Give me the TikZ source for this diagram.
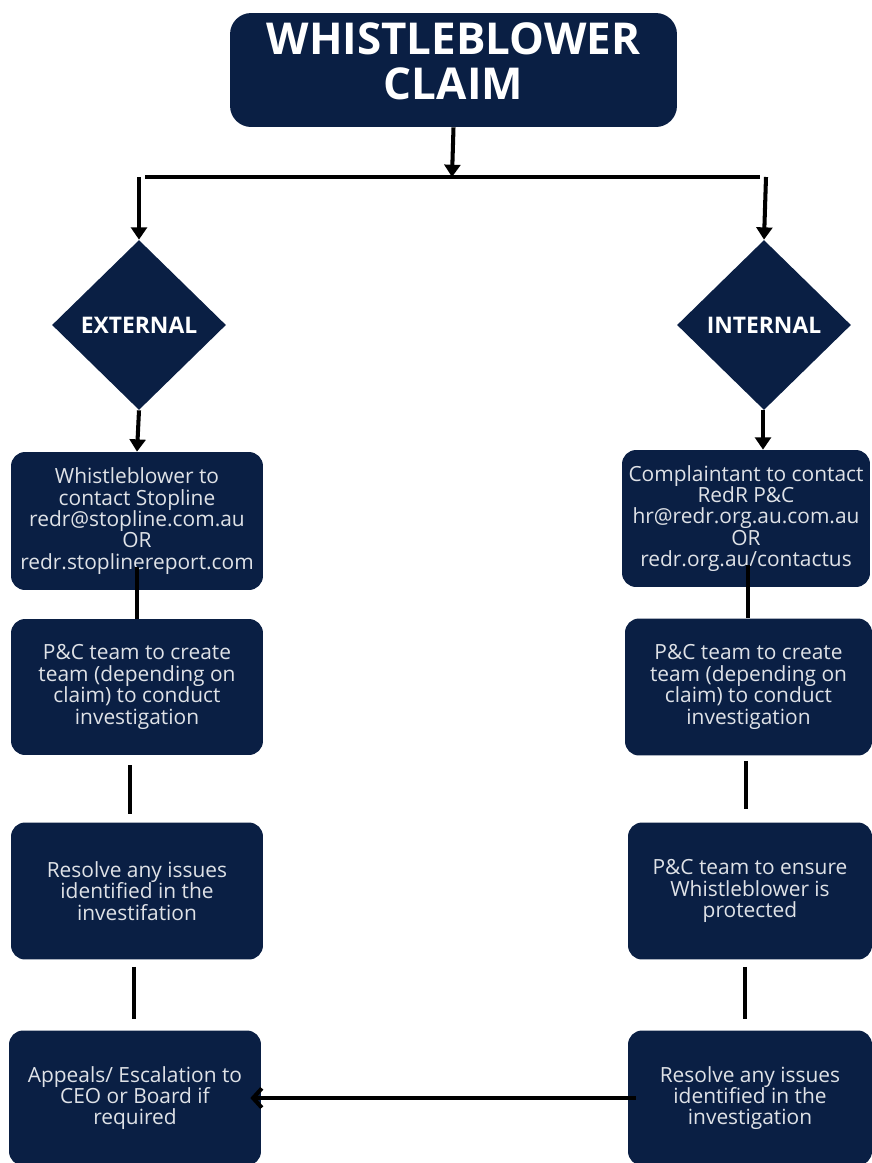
\documentclass[tikz,border=0pt]{standalone}
\usepackage{fontspec}
\setmainfont{Open Sans}
\usepackage{xcolor}
\usepackage{tikz}
\usetikzlibrary{positioning,arrows.meta,shapes.geometric,calc}

\definecolor{navy}{HTML}{0A1F44}
\definecolor{paletxt}{HTML}{DFE2E7}

\begin{document}
\begin{tikzpicture}[
  x=0.02cm, y=-0.02cm,
  titlebox/.style={fill=navy, rounded corners=12pt, minimum width=8.94cm, minimum height=2.28cm,
                   text=white, align=center, inner sep=0pt, text depth=0.34cm,
                   font=\fontsize{25}{25.6}\selectfont\bfseries},
  choice/.style={diamond, fill=navy, minimum width=3.48cm, minimum height=3.40cm, inner sep=0pt,
                 text=white, font=\fontsize{13}{15}\selectfont\bfseries},
  stepbox/.style={fill=navy, rounded corners=8pt, text=paletxt, align=center, inner sep=2pt,
                  font=\fontsize{11.9}{12.2}\selectfont},
  link/.style={line width=2.3pt},
  flow/.style={line width=2.3pt, -{Triangle[length=7pt, width=9pt]}},
]
  \useasboundingbox (0,0) rectangle (872,1163);

  % --- Title ---
  \node[titlebox] (claim) at (453.5, 70) {WHISTLEBLOWER\\CLAIM};

  % --- Split bar ---
  \coordinate (barM) at (452, 177);
  \coordinate (barL) at (139, 177);
  \coordinate (barR) at (766, 177);
  \draw[flow] (claim.south) -- (barM);
  \draw[link] (145,177) -- (760,177);

  % --- Decisions ---
  \node[choice] (ext) at (139, 325) {EXTERNAL};
  \node[choice] (int) at (764, 325) {INTERNAL};
  \draw[flow] (barL) -- (ext.north);
  \draw[flow] (barR) -- (int.north);

  % --- External column ---
  \node[stepbox, minimum width=5.04cm, minimum height=2.76cm] (ext1) at (137, 521)
    {Whistleblower to\\contact Stopline\\redr@stopline.com.au\\OR\\redr.stoplinereport.com};
  \node[stepbox, minimum width=5.04cm, minimum height=2.72cm] (ext2) at (137, 687)
    {P\&C team to create\\team (depending on\\claim) to conduct\\investigation};
  \node[stepbox, minimum width=5.04cm, minimum height=2.74cm] (ext3) at (137, 891)
    {Resolve any issues\\identified in the\\investifation};
  \node[stepbox, minimum width=5.04cm, minimum height=2.70cm] (ext4) at (135, 1098)
    {Appeals/ Escalation to\\CEO or Board if\\required};

  % --- Internal column ---
  \node[stepbox, minimum width=4.96cm, minimum height=2.74cm] (int1) at (746, 518.5)
    {Complaintant to contact\\RedR P\&C\\hr@redr.org.au.com.au\\OR\\redr.org.au/contactus};
  \node[stepbox, minimum width=4.94cm, minimum height=2.74cm] (int2) at (748.5, 687)
    {P\&C team to create\\team (depending on\\claim) to conduct\\investigation};
  \node[stepbox, minimum width=4.88cm, minimum height=2.74cm] (int3) at (750, 891)
    {P\&C team to ensure\\Whistleblower is\\protected};
  \node[stepbox, minimum width=4.88cm, minimum height=2.70cm] (int4) at (750, 1098)
    {Resolve any issues\\identified in the\\investigation};

  % --- Connectors ---
  \draw[flow] (ext.south) -- (ext1.north);
  \draw[flow] ([xshift=-0.02cm]int.south) -- ([xshift=-0.02cm]int.south |- int1.north);
  \draw[link, shorten <=-0.46cm] (ext1.south) -- (ext2.north);
  \draw[link, shorten <=0.2cm, shorten >=0.16cm] ([xshift=-0.14cm]ext2.south) -- ([xshift=-0.14cm]ext3.north);
  \draw[link, shorten <=0.14cm, shorten >=0.22cm] ([xshift=-0.06cm]ext3.south) -- ([xshift=-0.06cm]ext3.south |- ext4.north);
  \draw[link, shorten <=-0.44cm] ([xshift=0.04cm]int1.south) -- ([xshift=0.04cm]int1.south |- int2.north);
  \draw[link, shorten <=0.1cm, shorten >=0.26cm] ([xshift=-0.05cm]int2.south) -- ([xshift=-0.05cm]int2.south |- int3.north);
  \draw[link, shorten <=0.14cm, shorten >=0.22cm] ([xshift=-0.1cm]int3.south) -- ([xshift=-0.1cm]int3.south |- int4.north);
  \draw[line width=2.3pt, -{Straight Barb[length=5pt, width=11pt]}, shorten <=-0.16cm, shorten >=-0.22cm]
    (int4.west) -- (ext4.east);

\end{tikzpicture}
\end{document}
